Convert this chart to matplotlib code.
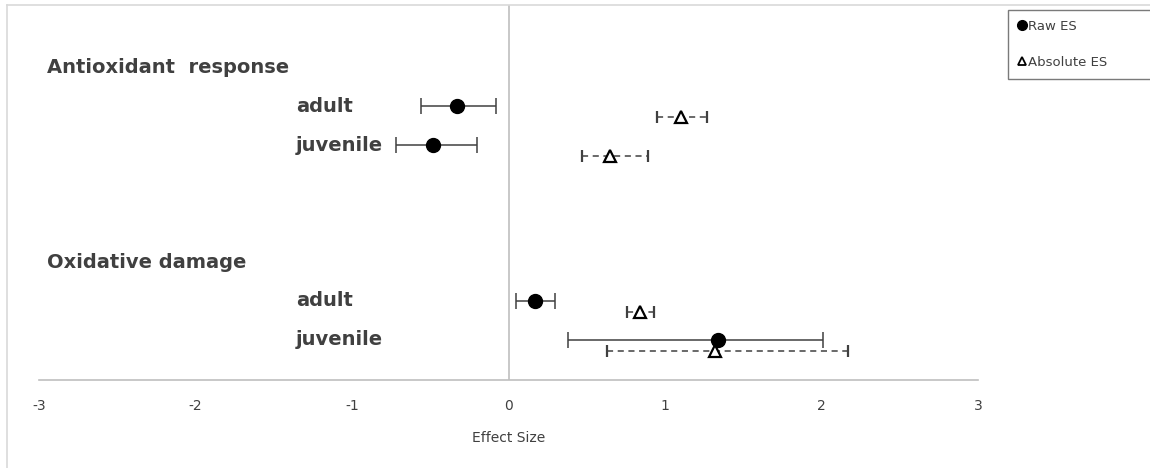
import matplotlib
matplotlib.use("Agg")
import matplotlib.pyplot as plt
from matplotlib.lines import Line2D

plt.rcParams["axes.unicode_minus"] = False

# rows: 0 = group header, then subgroups below
groups = ["Antioxidant  response", "Oxidative damage"]
group_rows = [0, 5]
stages = ["adult", "juvenile", "adult", "juvenile"]
stage_rows = [1, 2, 6, 7]

raw_es = [-0.33, -0.48, 0.17, 1.34]
raw_lo = [-0.56, -0.72, 0.05, 0.38]
raw_hi = [-0.08, -0.20, 0.30, 2.01]

abs_es = [1.10, 0.65, 0.84, 1.32]
abs_lo = [0.95, 0.47, 0.76, 0.63]
abs_hi = [1.27, 0.89, 0.93, 2.17]
abs_shift = 0.28

text_col = "#404040"
W, H = 1150, 468

fig = plt.figure(figsize=(W / 100, H / 100), dpi=100)
ax = fig.add_axes([39 / W, (H - 380) / H, (978 - 39) / W, (380 - 5) / H])

# chart frame (top and left edges visible in reference)
fig.add_artist(Line2D([7 / W, 1], [1 - 5 / H, 1 - 5 / H], color="#d9d9d9", lw=1.2))
fig.add_artist(Line2D([7 / W, 7 / W], [0, 1 - 5 / H], color="#d9d9d9", lw=1.2))

ax.set_xlim(-3, 3)
ax.set_ylim(8.03, -1.6)
for s in ["top", "right", "left"]:
    ax.spines[s].set_visible(False)
ax.spines["bottom"].set_color("#bfbfbf")
ax.spines["bottom"].set_linewidth(1.2)
ax.axvline(0, color="#bfbfbf", lw=1.2, zorder=0)

ax.set_yticks([])
ax.set_xticks([-3, -2, -1, 0, 1, 2, 3])
ax.tick_params(axis="x", length=0, pad=14, labelsize=10, labelcolor=text_col)
ax.set_xlabel("Effect Size", fontsize=10, color=text_col, labelpad=13)

# raw effect sizes
raw_err = [[e - l for e, l in zip(raw_es, raw_lo)], [h - e for e, h in zip(raw_es, raw_hi)]]
ax.errorbar(raw_es, stage_rows, xerr=raw_err, fmt="o", color="black", ecolor=text_col,
            elinewidth=1.1, capsize=6, capthick=1.1, markersize=10, zorder=3)

# absolute effect sizes
abs_rows = [r + abs_shift for r in stage_rows]
abs_err = [[e - l for e, l in zip(abs_es, abs_lo)], [h - e for e, h in zip(abs_es, abs_hi)]]
eb = ax.errorbar(abs_es, abs_rows, xerr=abs_err, fmt="^", color="black",
                 markerfacecolor="white", markeredgecolor="black", markeredgewidth=1.6,
                 ecolor=text_col, elinewidth=1.1, capsize=4, capthick=1.1, markersize=9,
                 zorder=3)
eb[2][0].set_linestyle((0, (4, 3)))

# labels
for g, r in zip(groups, group_rows):
    ax.text(-2.95, r, g, fontsize=14, fontweight="bold", color=text_col, va="center", ha="left")
for s, r in zip(stages, stage_rows):
    ax.text(-1.36, r, s, fontsize=14, fontweight="bold", color=text_col, va="center", ha="left")

handles = [
    Line2D([], [], marker="o", color="black", ls="none", markersize=7),
    Line2D([], [], marker="^", markerfacecolor="white", markeredgecolor="black",
           markeredgewidth=1.3, ls="none", markersize=6),
]
leg = fig.legend(handles, ["Raw ES", "Absolute ES"], loc="upper left",
                 bbox_to_anchor=(1008 / W, 1 - 78 / H, 160 / W, 68 / H), mode="expand",
                 frameon=True, fancybox=False,
                 fontsize=9.5, labelcolor=text_col, handlelength=0.6, handletextpad=0.15,
                 borderpad=0.75, labelspacing=1.75, borderaxespad=0)
leg.get_frame().set_edgecolor("#595959")
leg.get_frame().set_linewidth(1.0)

fig.savefig("out.png", dpi=100)
